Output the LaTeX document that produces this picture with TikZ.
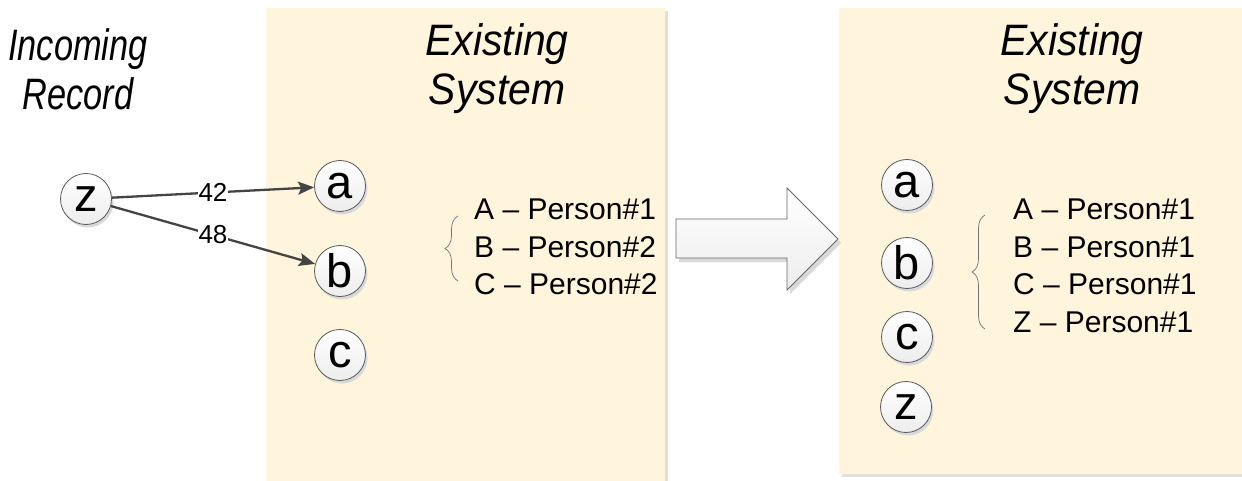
\documentclass[tikz,border=0pt]{standalone}
\usepackage{fontspec}
\setmainfont{Liberation Sans}
\usetikzlibrary{shadows,arrows.meta,decorations.pathreplacing}
\definecolor{panelfill}{HTML}{FFF4DC}
\definecolor{edgegray}{HTML}{444444}
\begin{document}
\begin{tikzpicture}[x=1pt,y=-1pt,
  panel/.style={fill=panelfill, draw=none,
    drop shadow={shadow xshift=3pt, shadow yshift=-3pt, fill=black!12, opacity=1}},
  vtx/.style={circle, minimum size=51pt, inner sep=0pt, draw=black!65, line width=0.8pt,
    top color=white, bottom color=black!7,
    drop shadow={shadow xshift=2pt, shadow yshift=-3pt, fill=black!15, opacity=1},
    font=\fontsize{47}{47}\selectfont},
  heading/.style={align=center, font=\fontsize{44}{49}\selectfont\itshape, inner sep=0pt},
  listtext/.style={align=left, anchor=west, inner sep=0pt, font=\fontsize{30}{37.5}\selectfont},
  conn/.style={draw=edgegray, line width=2.3pt, -{Stealth[length=16pt,width=13pt,inset=3pt]}},
  elabel/.style={fill=white, inner sep=0.5pt, font=\fontsize{26}{26}\selectfont},
  bracestyle/.style={draw=black!55, line width=0.7pt, decorate, decoration={brace, amplitude=13pt}},
  bigarrow/.style={draw=black!60, line width=0.8pt, top color=white, bottom color=black!7,
    drop shadow={shadow xshift=3pt, shadow yshift=-4pt, fill=black!15, opacity=1}}
]
\useasboundingbox (0,0) rectangle (1242,481);
\fill[white] (0,0) rectangle (1242,481);

% panels
\path[panel] (266,8) rectangle (665,490);
\path[panel] (839,8) rectangle (1250,474);

% headings
\node[heading, xscale=0.78, transform shape] (hin) at (78,69) {Incoming\\Record};
\node[heading, xscale=0.93, transform shape] (hex1) at (497,69) {Existing\\System};
\node[heading, xscale=0.93, transform shape] (hex2) at (1072,69) {Existing\\System};

% left side vertices
\node[vtx] (z) at (86,199) {z};
\node[vtx] (a) at (340,186) {a};
\node[vtx] (b) at (340,271) {b};
\node[vtx] (c) at (340,355) {c};

\draw[conn] (z) -- node[elabel, pos=0.5] (l42) {42} (a);
\draw[conn] (z) -- node[elabel, pos=0.5] (l48) {48} (b);

% left list
\node[listtext] (list1) at (474,247) {A – Person\#1\\B – Person\#2\\C – Person\#2};
\draw[bracestyle] (458,281) -- (458,216);

% big arrow
\path[bigarrow] (676,219) -- (787,219) -- (787,188) -- (838,239) -- (787,290) -- (787,258) -- (676,258) -- cycle;

% right side vertices
\node[vtx] (a2) at (907,185) {a};
\node[vtx] (b2) at (907,263) {b};
\node[vtx] (c2) at (907,337) {c};
\node[vtx] (z2) at (906,407) {z};

% right list
\node[listtext] (list2) at (1013,266) {A – Person\#1\\B – Person\#1\\C – Person\#1\\Z – Person\#1};
\draw[bracestyle] (985,329) -- (985,215);
\end{tikzpicture}
\end{document}
